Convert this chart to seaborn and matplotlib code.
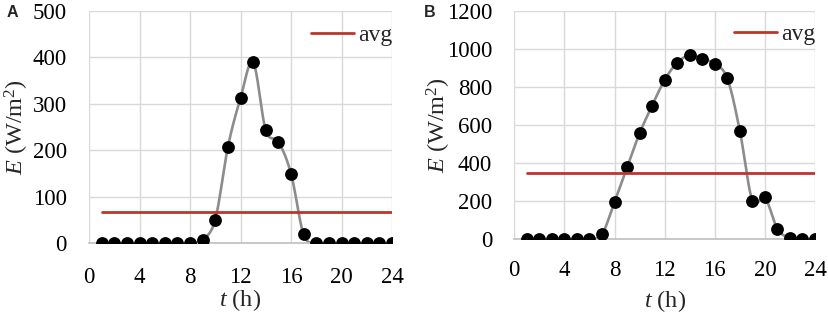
import numpy as np
import pandas as pd
import matplotlib
matplotlib.use("Agg")
import matplotlib.pyplot as plt
import seaborn as sns

hours = list(range(1, 25))
E_a = [0, 0, 0, 0, 0, 0, 0, 0, 8, 51, 207, 312, 389, 243, 218, 150, 19,
       0, 0, 0, 0, 0, 0, 0]
E_b = [0, 0, 0, 0, 0, 0, 25, 195, 377, 556, 702, 837, 928, 967, 949, 921,
       846, 570, 202, 219, 54, 5, 0, 0]
avg_a = 68
avg_b = 349
panel_labels = ["A", "B"]
xticks = [0, 4, 8, 12, 16, 20, 24]
yticks_a = [0, 100, 200, 300, 400, 500]
yticks_b = [0, 200, 400, 600, 800, 1000, 1200]

sns.set_theme(style="white")
plt.rcParams["font.family"] = ["Liberation Serif", "DejaVu Serif"]
plt.rcParams["mathtext.fontset"] = "custom"
plt.rcParams["mathtext.rm"] = "Liberation Serif"
plt.rcParams["mathtext.it"] = "Liberation Serif:italic"


def smooth(x, y, n=20):
    # Bezier smoothing of the connecting line (like a spreadsheet "smoothed line")
    x = np.asarray(x, float)
    y = np.asarray(y, float)
    px = np.concatenate([[x[0]], x, [x[-1]]])
    py = np.concatenate([[y[0]], y, [y[-1]]])
    xs, ys = [], []
    t = np.linspace(0, 1, n, endpoint=False)
    for i in range(1, len(px) - 2):
        p0, p1, p2, p3 = (np.array([px[j], py[j]]) for j in (i - 1, i, i + 1, i + 2))
        c1 = p1 + (p2 - p0) / 6
        c2 = p2 - (p3 - p1) / 6
        pts = ((1 - t) ** 3)[:, None] * p1 + (3 * (1 - t) ** 2 * t)[:, None] * c1 \
            + (3 * (1 - t) * t ** 2)[:, None] * c2 + (t ** 3)[:, None] * p2
        xs.append(pts[:, 0])
        ys.append(pts[:, 1])
    xs.append([x[-1]])
    ys.append([y[-1]])
    return np.concatenate(xs), np.concatenate(ys)


fig = plt.figure(figsize=(8.29, 3.13), dpi=100)
ax_a = fig.add_axes([89 / 829, 1 - 243.3 / 313, 303 / 829, 232.6 / 313])
ax_b = fig.add_axes([514.3 / 829, 1 - 239 / 313, 300.7 / 829, 228 / 313])

panels = [
    # ax, data, avg, yticks, label, label pos, xtick pad, legend y, ylabel x, xlabel y
    (ax_a, E_a, avg_a, yticks_a, panel_labels[0], (7 / 829, 1 - 12.5 / 313), 17, 0.893, -0.193, -0.19),
    (ax_b, E_b, avg_b, yticks_b, panel_labels[1], (424 / 829, 1 - 12.5 / 313), 15, 0.899, -0.203, -0.213),
]

for ax, E, avg, yticks, lab, lpos, xpad, legy, ylx, xly in panels:
    df = pd.DataFrame({"t": hours, "E": E})
    sx, sy = smooth(hours, E)
    ax.plot(sx, sy, color="#8c8c8c", lw=1.9, zorder=2)
    sns.scatterplot(data=df, x="t", y="E", ax=ax, color="black", s=85,
                    edgecolor="black", linewidth=0, zorder=3, legend=False)
    sns.lineplot(x=[1, 24], y=[avg, avg], ax=ax, color="#c0342e", lw=2,
                 label="avg", zorder=4)
    ax.set_xlim(0, 24)
    ax.set_ylim(yticks[0], yticks[-1])
    ax.set_xticks(xticks)
    ax.set_yticks(yticks)
    ax.grid(True, color="#d9d9d9", lw=1)
    ax.set_axisbelow(True)
    for s in ["left", "right", "top"]:
        ax.spines[s].set_visible(False)
    ax.spines["bottom"].set_color("#bfbfbf")
    ax.spines["bottom"].set_linewidth(1.2)
    ax.tick_params(axis="both", labelsize=16.5, length=0, colors="black")
    ax.tick_params(axis="x", pad=xpad)
    ax.tick_params(axis="y", pad=16)
    ax.set_xlabel("$\\mathit{t}$ (h)", fontsize=17.5)
    ax.set_ylabel("$\\mathit{E}$ (W/m$^2$)", fontsize=17.5)
    ax.yaxis.set_label_coords(ylx, 0.5)
    ax.xaxis.set_label_coords(0.5, xly)
    ax.legend(loc="center right", frameon=False, fontsize=17,
              handlelength=1.85, handletextpad=0.15, borderpad=0,
              bbox_to_anchor=(1.0, legy), borderaxespad=0)
    fig.text(lpos[0], lpos[1], lab, fontsize=11.5, fontweight="bold",
             family="Liberation Sans", va="center", ha="left")

fig.savefig("out.png", dpi=100)
